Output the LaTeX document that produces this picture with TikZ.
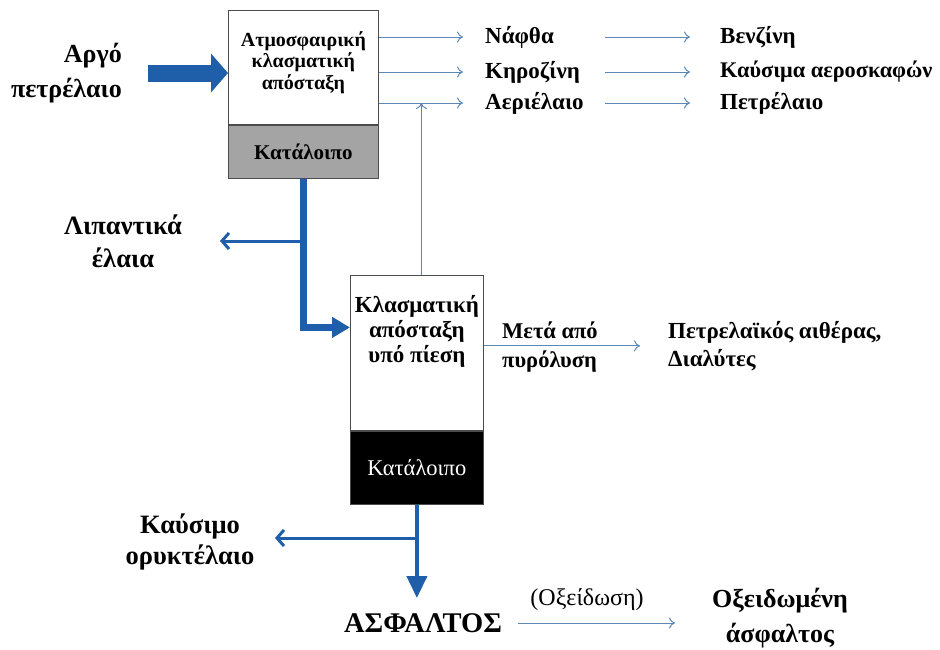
\documentclass[tikz,border=0pt]{standalone}
\usepackage{fontspec}
\setmainfont{Liberation Serif}
\usetikzlibrary{positioning, arrows.meta}

\definecolor{flowblue}{HTML}{1F5EA8}
\definecolor{thinblue}{HTML}{5C88B8}
\definecolor{resgray}{HTML}{A4A4A4}

\newcommand{\fs}[2]{\fontsize{#1}{#2}\selectfont}

\begin{document}
\begin{tikzpicture}[x=1pt, y=-1pt,
    thinflow/.style={thinblue, line width=1pt, -{To[length=6pt,width=11pt]}},
    thickflow/.style={flowblue, line width=7pt, -{Triangle[length=18pt,width=20pt]}},
    downflow/.style={flowblue, line width=4pt, -{Triangle[length=22pt,width=20pt]}},
    branch/.style={flowblue, line width=3pt, -{Straight Barb[length=7pt,width=16pt]}},
    lbl/.style={inner sep=0pt, align=center}]
    \tikzstyle{unit}=[draw=black!70, line width=0.8pt, inner sep=0pt, align=center]

    \useasboundingbox (0,0) rectangle (940,649);

    % distillation units
    \node[unit, fill=white, minimum width=150, minimum height=114, anchor=north west,
        text depth=14pt, font=\bfseries\fs{20}{21.5}]
        (atm) at (228,10) {Ατμοσφαιρική\\ κλασματική\\ απόσταξη};
    \node[unit, fill=resgray, minimum width=150, minimum height=53, anchor=north,
        font=\bfseries\fs{21}{22}]
        (atmres) at (atm.south) {Κατάλοιπο};
    \node[unit, fill=white, minimum width=133, minimum height=155, anchor=north west,
        text depth=48pt, font=\bfseries\fs{23}{25}]
        (vac) at (350,275) {Κλασματική\\ απόσταξη\\ υπό πίεση};
    \node[unit, fill=black, text=white, minimum width=133, minimum height=73, anchor=north,
        font=\fs{22.5}{24}]
        (vacres) at (vac.south) {Κατάλοιπο};

    % labels
    \node[lbl, align=right, anchor=east, font=\bfseries\fs{26}{35}] (crude) at (122,73) {Αργό\\ πετρέλαιο};
    \node[lbl, anchor=west, font=\bfseries\fs{23}{24}] (naphtha) at (485,37) {Νάφθα};
    \node[lbl, anchor=west, font=\bfseries\fs{23}{24}] (kero) at (485,72) {Κηροζίνη};
    \node[lbl, anchor=west, font=\bfseries\fs{23}{24}] (gasoil) at (485,103) {Αεριέλαιο};
    \node[lbl, anchor=west, font=\bfseries\fs{23}{24}] (gasoline) at (720,37) {Βενζίνη};
    \node[lbl, anchor=west, font=\bfseries\fs{22.3}{24}] (jetfuel) at (720,72) {Καύσιμα αεροσκαφών};
    \node[lbl, anchor=west, font=\bfseries\fs{23}{24}] (heating) at (720,103) {Πετρέλαιο};
    \node[lbl, font=\bfseries\fs{26.5}{33}] (lube) at (123,241) {Λιπαντικά\\ έλαια};
    \node[lbl, align=left, anchor=west, font=\bfseries\fs{22.5}{29}] (pyro) at (502,347) {Μετά από\\ πυρόλυση};
    \node[lbl, align=left, anchor=west, font=\bfseries\fs{23}{28}] (solvents) at (668,346) {Πετρελαϊκός αιθέρας,\\ Διαλύτες};
    \node[lbl, font=\bfseries\fs{26.5}{31}] (fueloil) at (190,542) {Καύσιμο\\ ορυκτέλαιο};
    \node[lbl, font=\bfseries\fs{28.5}{30}] (asphalt) at (423,623) {ΑΣΦΑΛΤΟΣ};
    \node[lbl, font=\fs{24}{26}] (oxid) at (587,600) {(Οξείδωση)};
    \node[lbl, font=\bfseries\fs{26}{35}] (oxasph) at (780,618) {Οξειδωμένη\\ άσφαλτος};

    % crude feed
    \draw[flowblue, line width=17pt, -{Triangle[length=17pt,width=38pt]}]
        ([xshift=26pt]crude.east) -- (crude.east -| atm.west);

    % light products
    \foreach \cut/\prod in {naphtha/gasoline, kero/jetfuel, gasoil/heating} {
        \draw[thinflow] (atm.east |- \cut.west) -- ([xshift=-22pt]\cut.west);
        \draw[thinflow] ([xshift=120pt]\cut.west) -- ([xshift=-30pt]\prod.west);
    }
    \draw[thinflow] ([xshift=4.5pt]vac.north) -- ([xshift=4.5pt]vac.north |- gasoil.west);

    % residue to vacuum unit
    \draw[thickflow] (atmres.south) |- ([yshift=25.5pt]vac.west);
    \draw[branch] (atmres.south |- lube) -- ([xshift=97pt]lube.center);

    % vacuum products
    \draw[thinflow] ([yshift=7pt]vac.east) -- ([yshift=7pt]vac.east -| solvents.west)
        [shorten >=28pt];
    \draw[downflow] (vacres.south) -- ([yshift=25pt]vacres.south |- asphalt);
    \draw[branch] ([yshift=4pt]vacres.south |- fueloil) -- ([shift={(85pt,4pt)}]fueloil.center);
    \draw[thinflow] ([xshift=95pt]asphalt.center) -- ([xshift=-105pt]oxasph.center |- asphalt.center);
\end{tikzpicture}
\end{document}
